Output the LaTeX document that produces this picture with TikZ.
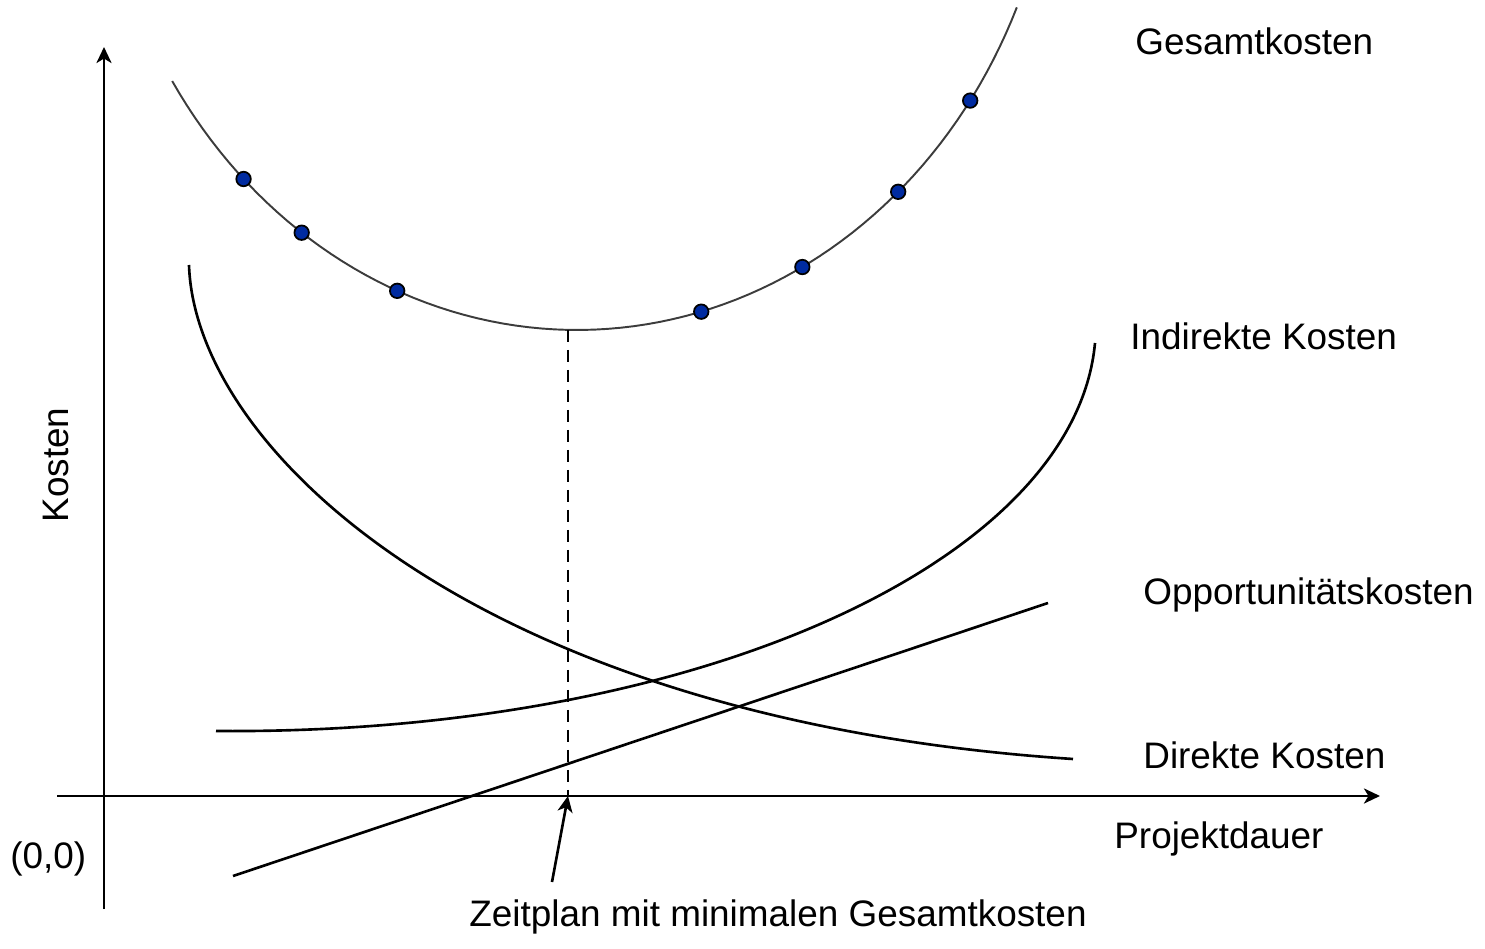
\documentclass[tikz,border=0pt]{standalone}
\usepackage{fontspec}
\setmainfont{Liberation Sans}
\usetikzlibrary{arrows.meta}
\definecolor{DotBlue}{RGB}{0,43,160}
\definecolor{CurveGray}{RGB}{60,60,60}

\begin{document}
\begin{tikzpicture}[x=0.02cm, y=-0.02cm,
        >={Stealth[length=0.32cm, width=0.3cm, inset=0.09cm]},
        every node/.style={font=\fontsize{21}{25}\selectfont, inner sep=0pt},
        axis/.style={line width=1.7pt},
        cost/.style={line width=1.5pt},
        dot/.style={circle, draw=black, fill=DotBlue, line width=1pt,
            minimum size=0.29cm, inner sep=0pt}]

    \useasboundingbox (0,0) rectangle (1485,949);

    % axes
    \draw[axis, ->] (57,796) -- (1380,796);
    \draw[axis, ->] (104,909) -- (104,47);
    \node[anchor=base west] (Origin) at (10,868) {(0,0)};
    \node[rotate=90, anchor=base] (KostenLbl) at (68,465) {Kosten};
    \node[anchor=base west] (DauerLbl) at (1114,848) {Projektdauer};

    % Gesamtkosten
    \draw[line width=1.1pt, CurveGray] plot[domain=147.5:23.6, samples=80]
        ({577+480*cos(\x)}, {-208+538*sin(\x)});
    \foreach \a in {134,125,112,75,62,48,35}
        \node[dot] at ({577+480*cos(\a)}, {-208+538*sin(\a)}) {};
    \node[anchor=base west] (TotalLbl) at (1135,55) {Gesamtkosten};

    % Direkte Kosten
    \draw[cost] (189,265) .. controls (195,450) and (480,720) .. (1073,759);
    \node[anchor=base west] (DirectLbl) at (1143,768) {Direkte Kosten};

    % Indirekte Kosten
    \draw[cost] (216,731) .. controls (700,735) and (1075,560) .. (1095,343);
    \node[anchor=base west] (IndirectLbl) at (1130,350) {Indirekte Kosten};

    % Opportunitaetskosten
    \draw[cost] (233,876) -- (1048,603);
    \node[anchor=base west] (OppLbl) at (1143,604) {Opportunitätskosten};

    % Minimum
    \coordinate (Min) at (568,330);
    \coordinate (MinX) at (568,796);
    \draw[cost, dash pattern=on 0.24cm off 0.16cm] (Min) -- (MinX);
    \node[anchor=base] (Zeitplan) at (778,926) {Zeitplan mit minimalen Gesamtkosten};
    \coordinate (ZTail) at (552,882);
    \draw[cost, ->] (ZTail) -- (MinX);

\end{tikzpicture}
\end{document}
